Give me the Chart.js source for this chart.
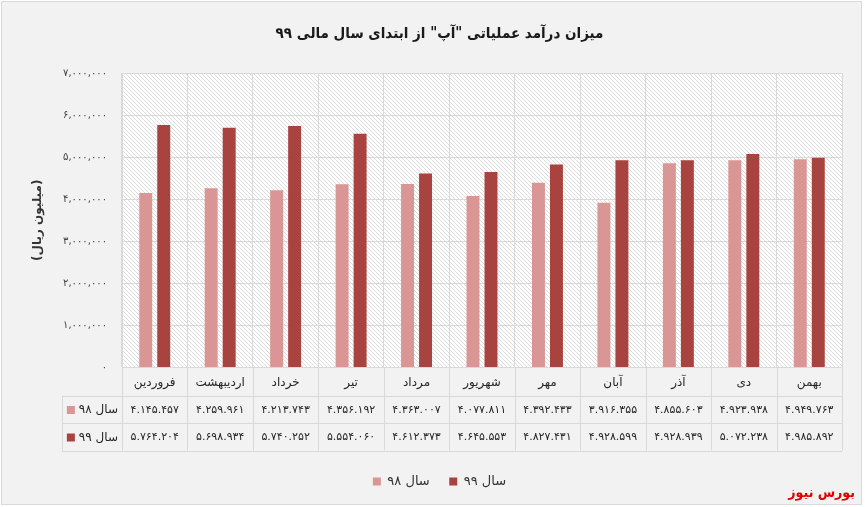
<!DOCTYPE html>
<html><head><meta charset="utf-8">
<script src="https://cdn.jsdelivr.net/npm/chart.js@4.4.1/dist/chart.umd.min.js"></script>
<style>html,body{margin:0;padding:0;background:#fff;}#wrap{width:867px;height:507px;position:relative;}</style>
</head><body><div id="wrap"><canvas id="c"></canvas></div>
<script>
const categories = ['فروردین','اردیبهشت','خرداد','تیر','مرداد','شهریور','مهر','آبان','آذر','دی','بهمن'];
const series98 = [4145457, 4259961, 4213743, 4356192, 4363007, 4077811, 4392433, 3916355, 4855603, 4923938, 4949763];
const series99 = [5764204, 5698934, 5740252, 5554060, 4612373, 4645553, 4827431, 4928599, 4928939, 5072238, 4985892];
const seriesNames = ['سال ۹۸', 'سال ۹۹'];
const yMin = 0, yMax = 7000000, yStep = 1000000;
const chartTitle = 'میزان درآمد عملیاتی "آپ" از ابتدای سال مالی ۹۹';
const yTitle = '(میلیون ریال)';
const sourceText = 'بورس نیوز';

const FONT = "'DejaVu Sans', sans-serif";
const FONT_C = "'DejaVu Sans Condensed', 'DejaVu Sans', sans-serif";
const faDigits = '۰۱۲۳۴۵۶۷۸۹';
function fa(n, sep) {
  return String(Math.round(n)).replace(/\B(?=(\d{3})+(?!\d))/g, sep).replace(/\d/g, d => faDigits[d]);
}

const frame = {
  id: 'frame',
  beforeDraw(chart) {
    const {ctx, chartArea: ca} = chart;
    ctx.save();
    ctx.fillStyle = '#ffffff';
    ctx.fillRect(0, 0, chart.width, chart.height);
    ctx.fillStyle = '#f2f2f2';
    ctx.fillRect(1, 1, 861, 504);
    ctx.strokeStyle = '#d9d9d9';
    ctx.lineWidth = 1;
    ctx.strokeRect(1.5, 1.5, 860, 503);
    const t = document.createElement('canvas');
    t.width = 4; t.height = 4;
    const tc = t.getContext('2d');
    tc.fillStyle = '#ffffff'; tc.fillRect(0, 0, 4, 4);
    tc.strokeStyle = '#dcdcdc'; tc.lineWidth = 1;
    tc.beginPath();
    tc.moveTo(0, 0); tc.lineTo(4, 4);
    tc.moveTo(-1, 3); tc.lineTo(1, 5);
    tc.moveTo(3, -1); tc.lineTo(5, 1);
    tc.stroke();
    ctx.fillStyle = ctx.createPattern(t, 'repeat');
    ctx.fillRect(ca.left, ca.top, ca.right - ca.left, ca.bottom - ca.top);
    ctx.restore();
  }
};

const dataTable = {
  id: 'dataTable',
  afterDraw(chart) {
    const {ctx, chartArea: ca, scales: {x}} = chart;
    const r0 = ca.bottom;
    const rows = [r0, r0 + 28, r0 + 55, r0 + 83];
    const labelLeft = 62;
    const step = x.getPixelForValue(1) - x.getPixelForValue(0);
    const first = x.getPixelForValue(0) - step / 2;
    ctx.save();
    ctx.strokeStyle = '#d9d9d9';
    ctx.lineWidth = 1;
    ctx.beginPath();
    for (let i = 1; i < rows.length; i++) {
      ctx.moveTo(labelLeft, Math.round(rows[i]) + 0.5);
      ctx.lineTo(ca.right, Math.round(rows[i]) + 0.5);
    }
    for (let i = 0; i <= categories.length; i++) {
      const px = Math.round(first + i * step) + 0.5;
      ctx.moveTo(px, rows[0]);
      ctx.lineTo(px, rows[3]);
    }
    ctx.moveTo(labelLeft + 0.5, rows[1]);
    ctx.lineTo(labelLeft + 0.5, rows[3]);
    ctx.stroke();

    ctx.textBaseline = 'middle';
    chart.data.datasets.forEach((ds, di) => {
      const yc = (rows[di + 1] + rows[di + 2]) / 2 + 1;
      ctx.font = '12px ' + FONT;
      ctx.fillStyle = '#262626';
      ctx.textAlign = 'right';
      ctx.fillText(ds.label, 118, yc);
      const w = ctx.measureText(ds.label).width;
      ctx.fillStyle = ds.backgroundColor;
      ctx.fillRect(118 - w - 12, yc - 4, 8, 8);
      ctx.font = '11px ' + FONT;
      ctx.fillStyle = '#262626';
      ctx.textAlign = 'center';
      ds.data.forEach((v, i) => {
        ctx.fillText(fa(v, '.'), x.getPixelForValue(i), yc);
      });
    });

    ctx.font = 'bold 14px ' + FONT_C;
    ctx.fillStyle = '#e00000';
    ctx.textAlign = 'right';
    ctx.fillText(sourceText, 855, 493);
    ctx.restore();
  }
};

new Chart(document.getElementById('c'), {
  type: 'bar',
  data: {
    labels: categories,
    datasets: [
      {label: seriesNames[0], data: series98, backgroundColor: '#d99694', borderWidth: 0, categoryPercentage: 0.55, barPercentage: 0.72},
      {label: seriesNames[1], data: series99, backgroundColor: '#a9433f', borderWidth: 0, categoryPercentage: 0.55, barPercentage: 0.72}
    ]
  },
  options: {
    responsive: true,
    maintainAspectRatio: false,
    animation: false,
    layout: {padding: {left: 37, right: 25, top: 0, bottom: 9}},
    plugins: {
      title: {
        display: true, text: chartTitle, color: '#1a1a1a',
        font: {family: FONT_C, size: 15, weight: 'bold'},
        padding: {top: 25, bottom: 30}
      },
      legend: {
        position: 'bottom',
        labels: {
          color: '#333333', font: {family: FONT, size: 13},
          boxWidth: 8, boxHeight: 8, padding: 19.5
        }
      },
      tooltip: {enabled: false}
    },
    scales: {
      x: {
        grid: {color: '#d9d9d9', lineWidth: 1, offset: true, drawTicks: false},
        border: {color: '#d9d9d9'},
        ticks: {color: '#262626', font: {family: FONT, size: 12}, padding: 8, maxRotation: 0, autoSkip: false},
        afterFit(s) { s.height = 88; }
      },
      y: {
        min: yMin, max: yMax,
        grid: {color: '#d9d9d9', lineWidth: 1, drawTicks: false},
        border: {color: '#d9d9d9'},
        ticks: {stepSize: yStep, color: '#404040', font: {family: FONT, size: 10}, padding: 15,
          callback: v => fa(v, ',')},
        title: {display: true, text: yTitle, color: '#333333', font: {family: FONT, size: 12, weight: 'bold'}, padding: {top: -6}},
        afterFit(s) { s.width = 85; }
      }
    }
  },
  plugins: [frame, dataTable]
});
</script>
</body></html>
